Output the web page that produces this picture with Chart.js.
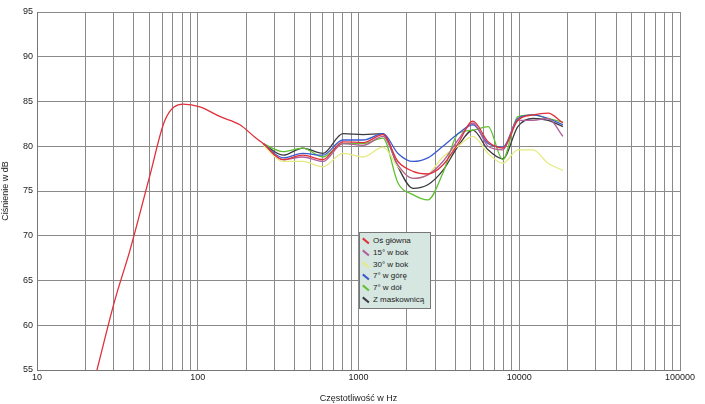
<!DOCTYPE html>
<html><head><meta charset="utf-8">
<script src="https://cdn.jsdelivr.net/npm/chart.js@4"></script>
<style>
html,body{margin:0;padding:0;background:#fff;}
#wrap{position:relative;width:705px;height:404px;}
#leg{position:absolute;left:359px;top:232px;width:68px;background:#d6e6e0;border:1px solid #777;font:8px "Liberation Sans",Arial,sans-serif;color:#222;padding:2px 0 2px 2px;}
#leg div{height:11.8px;line-height:11.8px;white-space:nowrap;}
#leg span{display:inline-block;width:8px;height:1.5px;margin-right:3px;vertical-align:middle;transform:rotate(40deg);}
</style></head><body>
<div id="wrap"><canvas id="c" width="705" height="404"></canvas><div id="leg"></div></div>
<script>
const lowFreq = [23.6, 30.5, 37.9, 50.5, 62.5, 81, 103, 138, 183, 227];
const lowMain = [55, 62.8, 68.4, 76.8, 82.9, 84.7, 84.4, 83.3, 82.4, 81.0];
const freq = [255, 340, 450, 600, 800, 1070, 1420, 1760, 2180, 2700, 3350, 4160, 5150, 6400, 7900, 9800, 12200, 15100, 18700];
const osGlowna   = [80.3,78.5,79.0,78.5,80.5,80.4,81.3,78.3,77.2,76.9,77.9,80.3,82.8,80.5,79.8,82.9,83.5,83.7,82.6];
const bok15      = [80.3,78.5,78.8,78.3,80.3,80.1,81.1,77.9,76.4,76.8,78.3,80.7,82.6,80.0,79.6,82.9,82.9,83.1,81.1];
const bok30      = [80.1,78.3,78.3,77.7,79.2,78.8,79.9,77.7,76.4,76.8,78.8,80.0,81.1,79.2,78.1,79.6,79.6,78.1,77.3];
const gora7      = [80.3,78.7,79.2,79.0,80.7,80.7,81.4,79.2,78.3,78.7,80.0,81.4,82.4,80.3,79.9,83.1,83.5,83.1,82.4];
const dol7       = [80.3,79.4,79.8,78.8,80.3,80.3,80.9,75.9,74.6,74.0,77.0,81.4,81.8,82.2,78.5,83.3,83.5,83.1,82.7];
const maskownica = [80.3,79.0,79.8,79.2,81.4,81.3,81.4,77.7,75.3,75.7,77.3,80.0,81.8,79.6,78.6,82.2,83.1,82.9,82.2];
const names = ["Oś główna","15° w bok","30° w bok","7° w górę","7° w dół","Z maskownicą"];
const colors = ["#e0303a","#b0609a","#e4ea80","#3a5ad0","#60c030","#3a3a40"];
const series = [osGlowna,bok15,bok30,gora7,dol7,maskownica];

const pts = (f,v)=>f.map((x,i)=>({x:x,y:v[i]}));
const datasets = series.map((s,i)=>({
  label:names[i],
  data: i===0 ? pts(lowFreq,lowMain).concat(pts(freq,s)) : pts(freq,s),
  borderColor:colors[i], borderWidth:1.3, pointRadius:0, cubicInterpolationMode:'monotone', fill:false
}));
datasets[0].order = 0;

const leg = document.getElementById('leg');
names.forEach((n,i)=>{const d=document.createElement('div');d.innerHTML='<span style="background:'+colors[i]+'"></span>'+n;leg.appendChild(d);});

const xTicks=[];
for(let d=10; d<100000; d*=10){for(let k=1;k<10;k++) xTicks.push(d*k);} xTicks.push(100000);
const font={family:'"Liberation Sans",Arial,sans-serif',size:9};
new Chart(document.getElementById('c'),{
  type:'line',
  data:{datasets},
  options:{
    responsive:false, animation:false,
    layout:{padding:{left:0,right:25,top:12,bottom:0}},
    plugins:{legend:{display:false},tooltip:{enabled:false}},
    scales:{
      x:{type:'logarithmic',min:10,max:100000,
        afterBuildTicks:a=>{a.ticks=xTicks.map(v=>({value:v}));},
        afterFit:a=>{a.height=34;},
        ticks:{autoSkip:false,maxRotation:0,font,color:'#222',padding:2,
          callback:v=>{const l=Math.log10(v);return Math.abs(l-Math.round(l))<1e-9?String(v):'';}},
        grid:{color:'#8a8a8a',lineWidth:1,drawTicks:false},
        border:{color:'#777'},
        title:{display:true,text:'Częstotliwość w Hz',font,color:'#222',padding:{top:-6,bottom:0}}},
      y:{min:55,max:95,
        afterFit:a=>{a.width=37;},
        ticks:{stepSize:5,font,color:'#222',padding:4},
        grid:{color:'#8a8a8a',lineWidth:1,drawTicks:false},
        border:{color:'#777'},
        title:{display:true,text:'Ciśnienie w dB',font,color:'#222',padding:0}}
    }
  }
});
</script></body></html>
